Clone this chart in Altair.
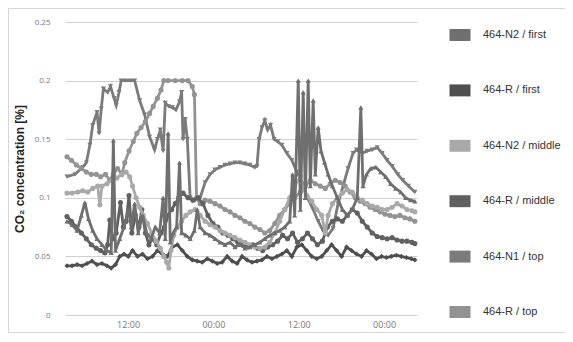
import altair as alt
import pandas as pd

SERIES = ["464-N2 / first", "464-R / first", "464-N2 / middle",
          "464-R / middle", "464-N1 / top", "464-R / top"]
COLORS = ["#6f6f6f", "#4f4f4f", "#a9a9a9", "#606060", "#7b7b7b", "#939393"]
SHAPES = ["triangle-up", "diamond", "circle", "circle", "triangle-down", "circle"]

# hours after 03:08 on day 1, CO2 concentration [%]
n1_top_h = [0.28, 1.4, 2.5, 3.0, 3.5, 3.9, 4.5, 4.8, 5.1, 5.4, 6.0, 6.4, 6.9, 7.2, 7.6, 7.9, 8.5, 9.2, 9.8,
            10.5, 11.2, 11.9, 12.6, 13.0, 13.4, 13.8, 14.1, 14.6, 15.1, 15.6, 16.1, 16.4, 16.6, 16.9, 17.2,
            17.6, 18.3, 19.0, 19.7, 20.4, 21.1, 21.8, 22.5, 23.2, 23.9, 24.6, 25.3, 26.0, 26.7, 27.0, 27.3,
            27.7, 28.1, 28.5, 28.9, 29.4, 29.9, 30.5, 31.2, 31.9, 32.6, 33.4, 34.1, 34.9, 35.6, 36.3, 37.0,
            37.7, 38.4, 39.1, 39.8, 40.5, 41.0, 41.8, 42.5, 43.2, 43.9, 44.6, 45.3, 46.0, 46.8, 47.5, 48.3, 49.2]
n1_top_v = [0.118, 0.12, 0.126, 0.13, 0.145, 0.162, 0.173, 0.155, 0.176, 0.193, 0.19, 0.195, 0.185, 0.179,
            0.19, 0.2, 0.2, 0.2, 0.2, 0.183, 0.171, 0.152, 0.141, 0.15, 0.158, 0.14, 0.181, 0.178, 0.177,
            0.175, 0.182, 0.19, 0.15, 0.167, 0.15, 0.1, 0.098, 0.1, 0.113, 0.12, 0.124, 0.126, 0.128, 0.129,
            0.13, 0.13, 0.129, 0.128, 0.126, 0.127, 0.15, 0.16, 0.166, 0.158, 0.162, 0.15, 0.148, 0.145,
            0.138, 0.132, 0.122, 0.112, 0.1, 0.09, 0.08, 0.072, 0.068, 0.074, 0.095, 0.11, 0.125, 0.138,
            0.141, 0.138, 0.14, 0.141, 0.143, 0.138, 0.132, 0.127, 0.12, 0.115, 0.11, 0.105]

r_top_h = [0.28, 0.9, 1.6, 2.3, 3.0, 3.7, 4.4, 5.0, 5.7, 6.3, 6.8, 7.4, 8.0, 8.4, 9.0, 9.6, 10.1, 10.7, 11.3,
           11.9, 12.4, 13.0, 13.5, 13.9, 14.5, 15.5, 16.5, 17.3, 17.9, 18.2, 18.5, 19.0, 19.7, 20.4, 21.1,
           21.8, 22.5, 23.2, 23.9, 24.6, 25.3, 26.0, 26.7, 27.4, 28.1, 28.8, 29.5, 30.2, 30.9, 31.6, 32.3,
           33.1, 33.8, 34.5, 35.2, 35.9, 36.6, 37.3, 38.0, 38.7, 39.4, 40.1, 40.8, 41.5, 42.2, 42.9, 43.6,
           44.3, 45.0, 45.7, 46.4, 47.1, 47.8, 48.5, 49.2]
r_top_v = [0.135, 0.132, 0.128, 0.125, 0.122, 0.12, 0.12, 0.118, 0.12, 0.115, 0.12, 0.125, 0.12, 0.13, 0.14,
           0.148, 0.155, 0.16, 0.165, 0.172, 0.178, 0.185, 0.192, 0.2, 0.2, 0.2, 0.2, 0.2, 0.195, 0.188, 0.1,
           0.095, 0.098, 0.097, 0.095, 0.093, 0.09, 0.088, 0.085, 0.083, 0.08, 0.078, 0.075, 0.073, 0.07,
           0.072, 0.078, 0.085, 0.09, 0.095, 0.1, 0.105, 0.11, 0.115, 0.112, 0.11, 0.108, 0.112, 0.115, 0.113,
           0.11, 0.105, 0.1, 0.097, 0.095, 0.092, 0.09, 0.088, 0.086, 0.085, 0.084, 0.085, 0.083, 0.082, 0.08]

n2_mid_h = [0.28, 1.0, 1.8, 2.5, 3.2, 3.9, 4.6, 4.9, 5.2, 5.9, 6.6, 7.3, 8.0, 8.6, 9.1, 9.5, 10.0, 10.5, 11.0,
            11.6, 12.2, 12.8, 13.4, 13.9, 14.3, 14.6, 14.9, 15.3, 15.8, 16.4, 17.0, 17.6, 18.3, 19.0, 19.7,
            20.4, 21.1, 21.8, 22.5, 23.2, 23.9, 24.6, 25.3, 26.0, 26.7, 27.4, 28.1, 28.8, 29.5, 30.2, 30.9,
            31.6, 32.3, 33.1, 33.5, 34.0, 34.7, 35.4, 36.1, 36.6, 37.0, 37.6, 38.3, 39.0, 39.7, 40.4, 41.1,
            41.8, 42.5, 43.2, 43.9, 44.6, 45.3, 46.0, 46.7, 47.4, 48.1, 48.8, 49.2]
n2_mid_v = [0.104, 0.104, 0.105, 0.106, 0.105, 0.108, 0.11, 0.094, 0.11, 0.112, 0.115, 0.117, 0.12, 0.122,
            0.118, 0.11, 0.1, 0.092, 0.085, 0.078, 0.07, 0.063, 0.057, 0.05, 0.045, 0.04, 0.055, 0.068, 0.075,
            0.08, 0.085, 0.088, 0.09, 0.085, 0.08, 0.077, 0.075, 0.072, 0.07, 0.068, 0.066, 0.064, 0.062, 0.06,
            0.058, 0.057, 0.058, 0.062, 0.07, 0.08, 0.09, 0.1, 0.11, 0.118, 0.108, 0.102, 0.097, 0.09, 0.085,
            0.07, 0.085, 0.095, 0.1, 0.104, 0.107, 0.105, 0.1, 0.098, 0.095, 0.093, 0.092, 0.09, 0.09, 0.092,
            0.095, 0.093, 0.09, 0.089, 0.088]

n2_first_h = [0.28, 1.0, 1.7, 2.3, 2.8, 3.3, 3.9, 4.5, 5.2, 5.9, 6.5, 6.8, 7.1, 7.7, 8.3, 8.9, 9.3, 9.8, 10.3,
              10.9, 11.5, 12.1, 12.7, 13.3, 13.8, 14.1, 14.5, 14.8, 15.2, 15.7, 16.1, 16.4, 17.0, 17.6, 18.2,
              18.6, 19.0, 19.7, 20.4, 21.1, 21.8, 22.5, 23.2, 23.9, 24.6, 25.3, 26.0, 26.7, 27.4, 28.1, 28.8,
              29.5, 30.2, 30.9, 31.6, 32.0, 32.3, 32.8, 33.1, 33.5, 33.8, 34.2, 34.5, 34.9, 35.2, 35.6, 36.0,
              36.5, 37.0, 37.6, 38.3, 39.0, 39.7, 40.4, 41.1, 41.6, 41.9, 42.4, 43.0, 43.7, 44.4, 45.1, 45.8,
              46.5, 47.2, 47.9, 48.6, 49.2]
n2_first_v = [0.08, 0.077, 0.072, 0.085, 0.096, 0.082, 0.072, 0.065, 0.06, 0.055, 0.053, 0.149, 0.055, 0.065,
              0.075, 0.09, 0.075, 0.095, 0.07, 0.085, 0.07, 0.065, 0.075, 0.07, 0.1, 0.065, 0.155, 0.062, 0.07,
              0.075, 0.13, 0.07, 0.068, 0.065, 0.072, 0.09, 0.075, 0.07, 0.068, 0.065, 0.062, 0.06, 0.062,
              0.058, 0.06, 0.057, 0.058, 0.06, 0.062, 0.065, 0.068, 0.07, 0.072, 0.075, 0.08, 0.12, 0.085, 0.2,
              0.09, 0.19, 0.1, 0.2, 0.11, 0.183, 0.12, 0.16, 0.14, 0.13, 0.12, 0.11, 0.1, 0.09, 0.085, 0.09,
              0.1, 0.177, 0.11, 0.12, 0.125, 0.126, 0.122, 0.118, 0.112, 0.108, 0.105, 0.1, 0.098, 0.097]

r_mid_h = [0.28, 0.9, 1.6, 2.3, 3.0, 3.7, 4.4, 5.0, 5.6, 6.0, 6.3, 6.7, 7.2, 7.8, 8.2, 8.6, 9.0, 9.4, 9.9, 10.4,
           10.8, 11.3, 11.8, 12.3, 12.9, 13.5, 14.0, 14.5, 15.0, 15.5, 16.0, 16.6, 17.3, 18.0, 18.7, 19.4,
           20.1, 20.8, 21.5, 22.2, 22.9, 23.6, 24.3, 25.0, 25.7, 26.4, 27.1, 27.8, 28.5, 29.2, 29.9, 30.6,
           31.3, 32.0, 32.7, 33.4, 34.1, 34.8, 35.5, 36.2, 36.9, 37.6, 38.3, 39.0, 39.7, 40.4, 41.1, 41.8,
           42.5, 43.2, 43.9, 44.6, 45.3, 46.0, 46.7, 47.4, 48.1, 48.8, 49.2]
r_mid_v = [0.084, 0.08, 0.075, 0.07, 0.065, 0.06, 0.057, 0.055, 0.053, 0.06, 0.081, 0.065, 0.07, 0.096, 0.075,
           0.08, 0.102, 0.07, 0.085, 0.075, 0.09, 0.07, 0.06, 0.065, 0.06, 0.07, 0.075, 0.085, 0.09, 0.095, 0.1,
           0.104, 0.1, 0.098, 0.1, 0.095, 0.085, 0.078, 0.075, 0.07, 0.068, 0.065, 0.062, 0.06, 0.058, 0.06,
           0.057, 0.055, 0.058, 0.06, 0.063, 0.068, 0.065, 0.07, 0.062, 0.065, 0.07, 0.065, 0.06, 0.063, 0.075,
           0.08, 0.082, 0.08, 0.085, 0.09, 0.087, 0.08, 0.075, 0.07, 0.067, 0.066, 0.065, 0.066, 0.064, 0.063,
           0.063, 0.062, 0.061]

r_first_h = [0.28, 1.0, 1.7, 2.4, 3.1, 3.8, 4.5, 5.2, 5.9, 6.5, 7.1, 7.7, 8.3, 8.9, 9.5, 10.2, 10.9, 11.6,
             12.3, 13.0, 13.7, 14.4, 15.1, 15.8, 16.5, 17.2, 17.9, 18.6, 19.3, 20.0, 20.7, 21.4, 22.1, 22.8,
             23.5, 24.2, 24.9, 25.6, 26.3, 27.0, 27.7, 28.4, 29.1, 29.8, 30.5, 31.2, 31.9, 32.6, 33.3, 34.0,
             34.7, 35.4, 36.1, 36.8, 37.5, 38.2, 38.9, 39.6, 40.3, 41.0, 41.7, 42.4, 43.1, 43.8, 44.5, 45.2,
             45.9, 46.6, 47.3, 48.0, 48.7, 49.2]
r_first_v = [0.042, 0.042, 0.043, 0.042, 0.044, 0.046, 0.043, 0.044, 0.042, 0.04, 0.043, 0.05, 0.052, 0.05,
             0.055, 0.05, 0.052, 0.048, 0.05, 0.055, 0.052, 0.05, 0.058, 0.06, 0.055, 0.05, 0.047, 0.046,
             0.045, 0.048, 0.046, 0.044, 0.045, 0.05, 0.046, 0.044, 0.05, 0.047, 0.045, 0.046, 0.047, 0.05,
             0.048, 0.05, 0.052, 0.055, 0.05, 0.058, 0.06, 0.055, 0.05, 0.048, 0.05, 0.055, 0.06, 0.055, 0.05,
             0.058, 0.055, 0.052, 0.05, 0.055, 0.052, 0.048, 0.05, 0.049, 0.05, 0.051, 0.05, 0.049, 0.048, 0.047]

DATA = {
    "464-N2 / first": (n2_first_h, n2_first_v),
    "464-R / first": (r_first_h, r_first_v),
    "464-N2 / middle": (n2_mid_h, n2_mid_v),
    "464-R / middle": (r_mid_h, r_mid_v),
    "464-N1 / top": (n1_top_h, n1_top_v),
    "464-R / top": (r_top_h, r_top_v),
}
DRAW_ORDER = ["464-N1 / top", "464-R / top", "464-R / middle", "464-R / first",
              "464-N2 / middle", "464-N2 / first"]

base_time = pd.Timestamp("2021-01-01 03:08:00")
rows = []
for name in SERIES:
    hs, vs = DATA[name]
    shp = SHAPES[SERIES.index(name)]
    for h, v in zip(hs, vs):
        rows.append({"series": name, "time": base_time + pd.Timedelta(hours=h),
                     "co2": v, "marker": shp})
df = pd.DataFrame(rows)
legend_df = pd.DataFrame({"series": SERIES})

x_enc = alt.X("time:T",
              scale=alt.Scale(domain=[alt.DateTime(year=2021, month=1, date=1, hours=3, minutes=8),
                                      alt.DateTime(year=2021, month=1, date=3, hours=4, minutes=38)]),
              axis=alt.Axis(values=[alt.DateTime(year=2021, month=1, date=1, hours=12),
                                    alt.DateTime(year=2021, month=1, date=2, hours=0),
                                    alt.DateTime(year=2021, month=1, date=2, hours=12),
                                    alt.DateTime(year=2021, month=1, date=3, hours=0)],
                            format="%H:%M", title=None, grid=False, domain=False, ticks=False,
                            labelPadding=5, labelFontSize=9, labelColor="#777", labelFont="Open Sans"))
y_enc = alt.Y("co2:Q",
              scale=alt.Scale(domain=[0, 0.25], nice=False),
              axis=alt.Axis(values=[0, 0.05, 0.1, 0.15, 0.2, 0.25], format="~g",
                            title="CO₂ concentration [%]", grid=True, gridColor="#d0d0d0",
                            domain=False, ticks=False, labelPadding=15, labelFontSize=8,
                            labelColor="#777", labelFont="Open Sans", titleFont="Liberation Sans",
                            titleFontSize=12, titleFontWeight="bold", titleColor="#222",
                            titlePadding=8))

color_scale = alt.Scale(domain=SERIES, range=COLORS)
chart_base = alt.Chart(df)
data_layers = []
for name in DRAW_ORDER:
    sub = chart_base.transform_filter(alt.datum.series == name)
    line = sub.mark_line(strokeWidth=2.8).encode(
        x=x_enc, y=y_enc,
        color=alt.Color("series:N", scale=color_scale, legend=None))
    pts = sub.mark_point(filled=True, size=26, opacity=1).encode(
        x=x_enc, y=y_enc,
        color=alt.Color("series:N", scale=color_scale, legend=None),
        shape=alt.Shape("marker:N", scale=None, legend=None))
    data_layers += [line, pts]
data_group = alt.layer(*data_layers)

# legend drawn as marks, one row per series
leg_y = alt.Y("series:N", scale=alt.Scale(domain=SERIES, range=[13, 290], padding=0), axis=None)
leg_sym = alt.Chart(legend_df).mark_point(
    shape="M-1,-0.57H1V0.57H-1Z", size=441, filled=True, opacity=1).encode(
    x=alt.value(395), y=leg_y,
    color=alt.Color("series:N", scale=color_scale, legend=None))
leg_txt = alt.Chart(legend_df).mark_text(
    align="left", baseline="middle", fontSize=11, font="Liberation Sans", color="#333").encode(
    x=alt.value(418), y=leg_y, text="series:N")
legend_group = alt.layer(leg_sym, leg_txt)

frame = alt.Chart(pd.DataFrame({"k": [0]})).mark_rect(
    fill="transparent", stroke="#d6d6d6", strokeWidth=1).encode(
    x=alt.value(-56.5), x2=alt.value(500.5), y=alt.value(-13.5), y2=alt.value(310.5))

chart = alt.layer(frame, data_group, legend_group).resolve_scale(y="independent").properties(
    width=352, height=293,
    autosize=alt.AutoSizeParams(type="none"),
    padding={"left": 57, "top": 14, "right": 148, "bottom": 18},
).configure_view(stroke=None)

chart.save("out.html", embed_options={"renderer": "svg", "actions": False})
